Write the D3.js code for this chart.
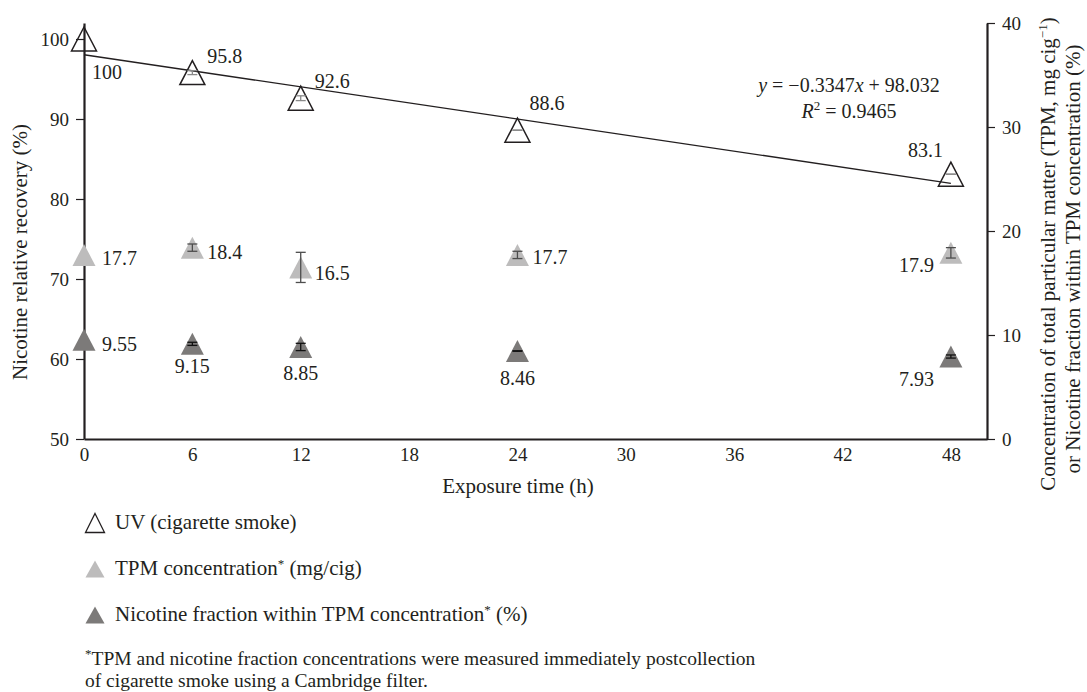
<!DOCTYPE html>
<html>
<head>
<meta charset="utf-8">
<script src="https://cdn.jsdelivr.net/npm/d3@7"></script>
<style>
  body { margin: 0; background: #fff; }
  text { font-family: "Liberation Serif", "Times New Roman", serif; fill: #231f20; }
</style>
</head>
<body>
<div id="chart"></div>
<script>
// data
var hours = [0, 6, 12, 24, 48];
var uvRecovery = [100, 95.8, 92.6, 88.6, 83.1];
var uvErr = [null, 0.25, 0.3, 0, 0];
var tpmConc = [17.7, 18.4, 16.5, 17.7, 17.9];
var tpmErr = [null, 0.35, 1.45, 0.35, 0.5];
var nicFrac = [9.55, 9.15, 8.85, 8.46, 7.93];
var nicErr = [null, 0.15, 0.35, 0.02, 0.15];
var xTicks = [0, 6, 12, 18, 24, 30, 36, 42, 48];
var leftTicks = [50, 60, 70, 80, 90, 100];
var rightTicks = [0, 10, 20, 30, 40];
var regSlope = -0.3347, regIntercept = 98.032, regR2 = 0.9465;

// label placement (dx, dy, anchor) for each point
var uvLabelPos = [[8, 40, "start"], [15, -10, "start"], [14, -10, "start"], [12, -20, "start"], [-8, -17, "end"]];
var tpmLabelPos = [[18, 10, "start"], [15, 11, "start"], [14, 13, "start"], [15, 9, "start"], [-17, 19, "end"]];
var nicLabelPos = [[18, 11, "start"], [0, 29, "middle"], [0, 33, "middle"], [0, 34, "middle"], [-17, 29, "end"]];

var W = 1087, H = 692;
var svg = d3.select("#chart").append("svg")
    .attr("width", W)
    .attr("height", H);

var x = d3.scaleLinear().domain([0, 50]).range([84, 987]);
var yL = d3.scaleLinear().domain([50, 102]).range([439, 23]);
var yR = d3.scaleLinear().domain([0, 40]).range([439, 23]);

function tri(w, h) {
  return "M0," + (-h / 2) + "L" + (w / 2) + "," + (h / 2) + "L" + (-w / 2) + "," + (h / 2) + "Z";
}

// axes
var gL = svg.append("g")
    .attr("transform", "translate(" + x(0) + ",0)")
    .call(d3.axisLeft(yL).tickValues(leftTicks).tickSizeInner(8).tickSizeOuter(0).tickPadding(7));
var gR = svg.append("g")
    .attr("transform", "translate(" + x(50) + ",0)")
    .call(d3.axisRight(yR).tickValues(rightTicks).tickSizeInner(8).tickSizeOuter(0).tickPadding(7));
var gB = svg.append("g")
    .attr("transform", "translate(0," + yL(50) + ")")
    .call(d3.axisBottom(x).tickValues(xTicks).tickSize(0).tickPadding(9));

[gL, gR, gB].forEach(function(g) {
  g.select(".domain").attr("stroke", "#231f20").attr("stroke-width", 2.2);
  g.selectAll(".tick line").attr("stroke", "#231f20").attr("stroke-width", 1.2);
  g.selectAll(".tick text")
    .attr("font-family", "Liberation Serif, serif")
    .attr("font-size", 19)
    .attr("fill", "#231f20");
});

// axis titles
svg.append("text")
    .attr("transform", "translate(27,380) rotate(-90)")
    .attr("font-size", 21)
    .text("Nicotine relative recovery (%)");

svg.append("text")
    .attr("x", 518).attr("y", 493)
    .attr("text-anchor", "middle")
    .attr("font-size", 21)
    .text("Exposure time (h)");

var rt = svg.append("text")
    .attr("transform", "translate(1055,254) rotate(-90)")
    .attr("text-anchor", "middle")
    .attr("font-size", 21);
rt.append("tspan").text("Concentration of total particular matter (TPM, mg cig");
rt.append("tspan").attr("font-size", 13).attr("dy", -8).text("\u22121");
rt.append("tspan").attr("dy", 8).text(")");

svg.append("text")
    .attr("transform", "translate(1080,259) rotate(-90)")
    .attr("text-anchor", "middle")
    .attr("font-size", 21)
    .text("or Nicotine fraction within TPM concentration (%)");

// regression line
svg.append("line")
    .attr("x1", x(0)).attr("y1", yL(regIntercept))
    .attr("x2", x(48)).attr("y2", yL(regIntercept + regSlope * 48))
    .attr("stroke", "#231f20")
    .attr("stroke-width", 1.3);

// equation
var eq = svg.append("text")
    .attr("x", 849).attr("y", 92)
    .attr("text-anchor", "middle")
    .attr("font-size", 20);
eq.append("tspan").attr("font-style", "italic").text("y");
eq.append("tspan").text(" = \u2212" + Math.abs(regSlope).toFixed(4));
eq.append("tspan").attr("font-style", "italic").text("x");
eq.append("tspan").text(" + " + regIntercept.toFixed(3));

var r2 = svg.append("text")
    .attr("x", 849).attr("y", 118)
    .attr("text-anchor", "middle")
    .attr("font-size", 20);
r2.append("tspan").attr("font-style", "italic").text("R");
r2.append("tspan").attr("font-size", 13).attr("dy", -8).text("2");
r2.append("tspan").attr("dy", 8).text(" = " + regR2);

// series drawing helper
function drawSeries(vals, errs, yScale, shape, fill, stroke, errColor, labelPos) {
  var data = hours.map(function(h, i) { return {h: h, v: vals[i], e: errs[i], p: labelPos[i]}; });
  var g = svg.append("g");
  g.selectAll("path.mark")
      .data(data)
    .enter().append("path")
      .attr("class", "mark")
      .attr("d", shape)
      .attr("transform", function(d) { return "translate(" + x(d.h) + "," + yScale(d.v) + ")"; })
      .attr("fill", fill)
      .attr("stroke", stroke)
      .attr("stroke-width", stroke == "none" ? 0 : 1.5);

  var eb = g.selectAll("g.err")
      .data(data.filter(function(d) { return d.e != null; }))
    .enter().append("g")
      .attr("class", "err")
      .attr("stroke", errColor)
      .attr("stroke-width", 1.3);
  eb.append("line")
      .attr("x1", function(d) { return x(d.h); })
      .attr("x2", function(d) { return x(d.h); })
      .attr("y1", function(d) { return yScale(d.v - d.e); })
      .attr("y2", function(d) { return yScale(d.v + d.e); });
  [-1, 1].forEach(function(s) {
    eb.append("line")
        .attr("x1", function(d) { return x(d.h) - 5; })
        .attr("x2", function(d) { return x(d.h) + 5; })
        .attr("y1", function(d) { return yScale(d.v + s * d.e); })
        .attr("y2", function(d) { return yScale(d.v + s * d.e); });
  });

  g.selectAll("text")
      .data(data)
    .enter().append("text")
      .attr("x", function(d) { return x(d.h) + d.p[0]; })
      .attr("y", function(d) { return yScale(d.v) + d.p[1]; })
      .attr("text-anchor", function(d) { return d.p[2]; })
      .attr("font-size", 20)
      .text(function(d) { return d.v; });
}

drawSeries(tpmConc, tpmErr, yR, tri(23, 22), "#bdbcbc", "none", "#4d4d4d", tpmLabelPos);
drawSeries(nicFrac, nicErr, yR, tri(23, 22), "#7c7a79", "none", "#111", nicLabelPos);
drawSeries(uvRecovery, uvErr, yL, tri(25, 24), "none", "#231f20", "#8a8a8a", uvLabelPos);

// legend
var legend = [
  {shape: tri(19, 19), fill: "none", stroke: "#231f20", text: "UV (cigarette smoke)", star: null},
  {shape: tri(19, 17), fill: "#bdbcbc", stroke: "none", text: "TPM concentration", star: " (mg/cig)"},
  {shape: tri(19, 17), fill: "#7c7a79", stroke: "none", text: "Nicotine fraction within TPM concentration", star: " (%)"}
];
var lg = svg.selectAll("g.leg")
    .data(legend)
  .enter().append("g")
    .attr("class", "leg")
    .attr("transform", function(d, i) { return "translate(95," + (529 + i * 46) + ")"; });
lg.append("path")
    .attr("d", function(d) { return d.shape; })
    .attr("transform", "translate(0,-6)")
    .attr("fill", function(d) { return d.fill; })
    .attr("stroke", function(d) { return d.stroke; })
    .attr("stroke-width", 1.3);
var lt = lg.append("text")
    .attr("x", 20)
    .attr("font-size", 21);
lt.append("tspan").text(function(d) { return d.text; });
lt.filter(function(d) { return d.star; })
    .append("tspan").attr("font-size", 13).attr("dy", -7).text("*");
lt.filter(function(d) { return d.star; })
    .append("tspan").attr("dy", 7).text(function(d) { return d.star; });

// footnote
var fn = svg.append("text").attr("x", 85).attr("y", 665).attr("font-size", 19.5);
fn.append("tspan").attr("font-size", 13).attr("dy", -7).text("*");
fn.append("tspan").attr("dy", 7).text("TPM and nicotine fraction concentrations were measured immediately postcollection");
svg.append("text").attr("x", 85).attr("y", 687).attr("font-size", 19.5)
    .text("of cigarette smoke using a Cambridge filter.");
</script>
</body>
</html>
